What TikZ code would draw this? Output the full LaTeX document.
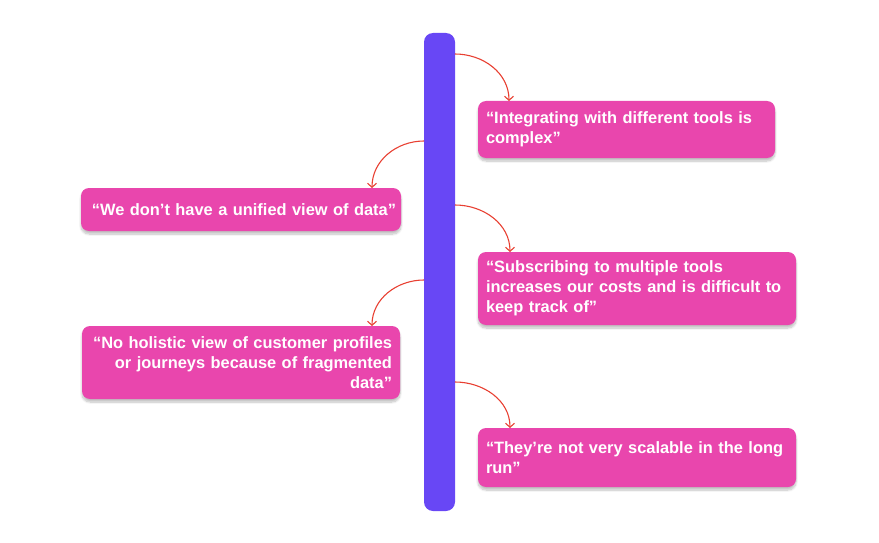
\documentclass[tikz,border=0pt]{standalone}
\usepackage{fontspec}
\setmainfont{Liberation Sans}
\usepackage{xcolor}
\usetikzlibrary{arrows.meta,shadows.blur}

\definecolor{barpurple}{RGB}{104,71,245}
\definecolor{quotepink}{RGB}{233,70,173}
\definecolor{linkred}{RGB}{232,64,50}

\begin{document}
\begin{tikzpicture}[x=1pt, y=-1pt,
  qbox/.style={fill=quotepink, rounded corners=8pt, text=white, inner xsep=8pt, inner ysep=0pt,
    outer sep=0pt, anchor=north west, font=\bfseries\fontsize{16.4}{20}\selectfont,
    blur shadow={shadow xshift=0pt, shadow yshift=-3pt, shadow opacity=25, shadow blur steps=8}},
  ql/.style={qbox, align=left}, qr/.style={qbox, align=right},
  arr/.style={draw=linkred, line width=1.1pt, -{Straight Barb[length=4pt,width=9pt]}}]
\useasboundingbox (0,0) rectangle (879,543);
\node[fill=barpurple, rounded corners=9pt, anchor=north west, minimum width=31pt,
  minimum height=478pt, inner sep=0pt, outer sep=0pt] (bar) at (424,33) {};
% quotes
\node[ql, minimum width=297pt, minimum height=57pt, text width=281pt] (integ) at (478,101)
  {“Integrating with different tools is\\complex”};
\node[qr, minimum width=320pt, minimum height=43pt, text width=310pt, inner xsep=5pt] (unified) at (81,188)
  {“We don’t have a unified view of data”};
\node[ql, minimum width=318pt, minimum height=73pt, text width=302pt] (subscr) at (478,252)
  {“Subscribing to multiple tools\\increases our costs and is difficult to\\keep track of”};
\node[qr, minimum width=318pt, minimum height=73pt, text width=302pt] (holistic) at (82,326)
  {“No holistic view of customer profiles\\or journeys because of fragmented\\data”};
\node[ql, minimum width=318pt, minimum height=59pt, text width=302pt] (scal) at (478,428)
  {“They’re not very scalable in the long\\run”};
% links
\draw[arr] ([yshift=-21pt]bar.north east) to[out=0, in=90] ([xshift=31pt]integ.north west);
\draw[arr] ([yshift=-108pt]bar.north west) to[out=180, in=90] ([xshift=-29pt]unified.north east);
\draw[arr] ([yshift=-172pt]bar.north east) to[out=0, in=90] ([xshift=32pt]subscr.north west);
\draw[arr] ([yshift=-247pt]bar.north west) to[out=180, in=90] ([xshift=-28pt]holistic.north east);
\draw[arr] ([yshift=-349pt]bar.north east) to[out=0, in=90] ([xshift=32pt]scal.north west);
\end{tikzpicture}
\end{document}
